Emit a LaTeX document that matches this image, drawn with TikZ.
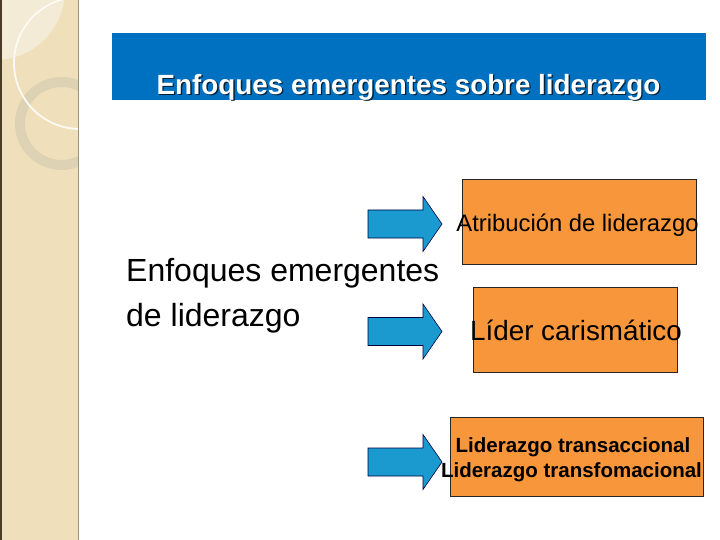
\documentclass[tikz,border=0pt]{standalone}
\usepackage{fontspec}
\setmainfont{Liberation Sans}
\definecolor{sidebeige}{HTML}{EFE0BB}
\definecolor{sidelight}{HTML}{F4EBD6}
\definecolor{ringcol}{HTML}{DDD2B4}
\definecolor{sideedge}{HTML}{4A3B26}
\definecolor{bannerblue}{HTML}{0070C0}
\definecolor{arrowblue}{HTML}{1B9AD0}
\definecolor{boxorange}{HTML}{F7963A}
\tikzset{
  box/.style={draw=black!85, line width=0.8pt, fill=boxorange, inner sep=0pt},
  blockarrow/.style={draw=black!75!blue, line width=0.6pt, fill=arrowblue, line join=miter},
  boxtext/.style={inner sep=0pt, anchor=base, text=black},
}
\begin{document}
\begin{tikzpicture}[x=1pt,y=-1pt]
\useasboundingbox (0,0) rectangle (720,540);
\fill[white] (0,0) rectangle (720,540);
% sidebar
\begin{scope}
\clip (0,0) rectangle (78,540);
\fill[sidebeige] (0,0) rectangle (78,540);
\fill[sidelight] (-5,-10) circle (70);
\draw[ringcol, line width=10pt] (61.5,123.5) circle (41.5);
\draw[white!85!sidebeige, line width=1.8pt] (80,63) circle (66);
\end{scope}
\draw[sideedge, line width=2.2pt] (1.1,0) -- (1.1,540);
\draw[black!35!sidebeige, line width=1pt] (78,0) -- (78,540);
% banner
\node[fill=bannerblue, minimum width=594pt, minimum height=67pt, inner sep=0pt] (banner) at (409,66.5) {};
\node[boxtext, text=black!70!bannerblue, font=\bfseries\fontsize{27.8}{30}\selectfont] (titleshadow) at (409.8,95.6) {Enfoques emergentes sobre liderazgo};
\node[boxtext, text=white, font=\bfseries\fontsize{27.8}{30}\selectfont] (title) at (408.5,94.5) {Enfoques emergentes sobre liderazgo};
% left text
\node[inner sep=0pt, anchor=base west, font=\fontsize{32}{44}\selectfont] (main1) at (126,281) {Enfoques emergentes};
\node[inner sep=0pt, anchor=base west, font=\fontsize{32}{44}\selectfont] (main2) at (126,326) {de liderazgo};
% arrows
\foreach \y/\n in {224/a1, 331.5/a2, 462/a3}{
  \draw[blockarrow] (368,\y-14) -- (423,\y-14) -- (423,\y-27.5) -- (442,\y) -- (423,\y+27.5) -- (423,\y+14) -- (368,\y+14) -- cycle;
}
% boxes
\node[box, minimum width=234pt, minimum height=85pt] (b1) at (579,221.5) {};
\node[boxtext, font=\fontsize{23.8}{26}\selectfont] (t1) at (577.5,231) {Atribución de liderazgo};
\node[box, minimum width=204pt, minimum height=85pt] (b2) at (575,329.5) {};
\node[boxtext, font=\fontsize{27.8}{30}\selectfont] (t2) at (576,340) {Líder carismático};
\node[box, minimum width=253pt, minimum height=79pt] (b3) at (576.5,456.5) {};
\node[boxtext, font=\bfseries\fontsize{20.5}{24}\selectfont] (t3a) at (573,452) {Liderazgo transaccional};
\node[boxtext, font=\bfseries\fontsize{20.5}{24}\selectfont] (t3b) at (571.5,477) {Liderazgo transfomacional};
\end{tikzpicture}
\end{document}
